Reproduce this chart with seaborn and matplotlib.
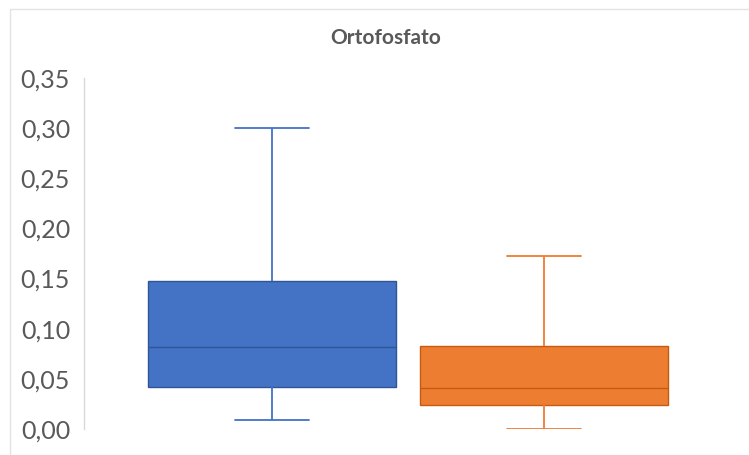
import matplotlib
matplotlib.use("Agg")
import matplotlib.pyplot as plt
import seaborn as sns
import pandas as pd
from matplotlib.ticker import FuncFormatter, MultipleLocator
from matplotlib.patches import Rectangle

# Data (five-number summaries: min, Q1, median, Q3, max)
grupos = ["Grupo 1", "Grupo 2"]
grupo1_valores = [0.009, 0.042, 0.082, 0.148, 0.300]
grupo2_valores = [0.000, 0.024, 0.041, 0.083, 0.173]
titulo = "Ortofosfato"

fill_colors = ["#4472C4", "#ED7D31"]
edge_colors = ["#2F5597", "#C55A11"]
whisker_colors = ["#4472C4", "#ED7D31"]

df = pd.DataFrame({
    "grupo": [grupos[0]] * len(grupo1_valores) + [grupos[1]] * len(grupo2_valores),
    "valor": grupo1_valores + grupo2_valores,
})

sns.set_theme(style="white")
plt.rcParams["font.family"] = ["Lato", "DejaVu Sans"]

fig = plt.figure(figsize=(7.49, 4.55), dpi=100)
ax = fig.add_axes([84 / 749, (455 - 429) / 455, (732 - 84) / 749, (429 - 78) / 455])

sns.boxplot(data=df, x="grupo", y="valor", hue="grupo", palette=fill_colors,
            saturation=1, whis=(0, 100), width=0.91, linewidth=1.2, dodge=False,
            legend=False, ax=ax, showfliers=False)

for cont, ec, wc in zip(ax.containers, edge_colors, whisker_colors):
    for b in cont.boxes:
        b.set_facecolor(fill_colors[edge_colors.index(ec)])
        b.set_edgecolor(ec)
        b.set_linewidth(1.0)
    for m in cont.medians:
        m.set_color(ec)
        m.set_linewidth(1.0)
    for w in cont.whiskers:
        w.set_color(wc)
        w.set_linewidth(1.3)
    for c in cont.caps:
        c.set_color(wc)
        c.set_linewidth(1.3)
        xd = c.get_xdata()
        cx = (xd[0] + xd[1]) / 2
        c.set_xdata([cx - 0.135, cx + 0.135])

ax.set_ylim(0, 0.35)
ax.set_xlim(-0.69, 1.69)
ax.yaxis.set_major_locator(MultipleLocator(0.05))
ax.yaxis.set_major_formatter(FuncFormatter(lambda v, p: f"{v:.2f}".replace(".", ",")))
ax.tick_params(axis="y", labelsize=18, labelcolor="#595959", length=0, pad=10)
ax.set_xticks([])
ax.set_xlabel("")
ax.set_ylabel("")
for s in ["top", "right", "bottom"]:
    ax.spines[s].set_visible(False)
ax.spines["left"].set_color("#D9D9D9")
ax.spines["left"].set_linewidth(1.0)

fig.text(386 / 749, 1 - 38 / 455, titulo, ha="center", va="center",
         fontsize=15, fontweight="bold", color="#595959")

fig.patches.append(Rectangle((10 / 749, -0.05), 1.2, (455 - 9) / 455 + 0.05,
                             transform=fig.transFigure, fill=False,
                             edgecolor="#E3E3E3", linewidth=1.0, zorder=-1))

fig.savefig("out.png", dpi=100)
